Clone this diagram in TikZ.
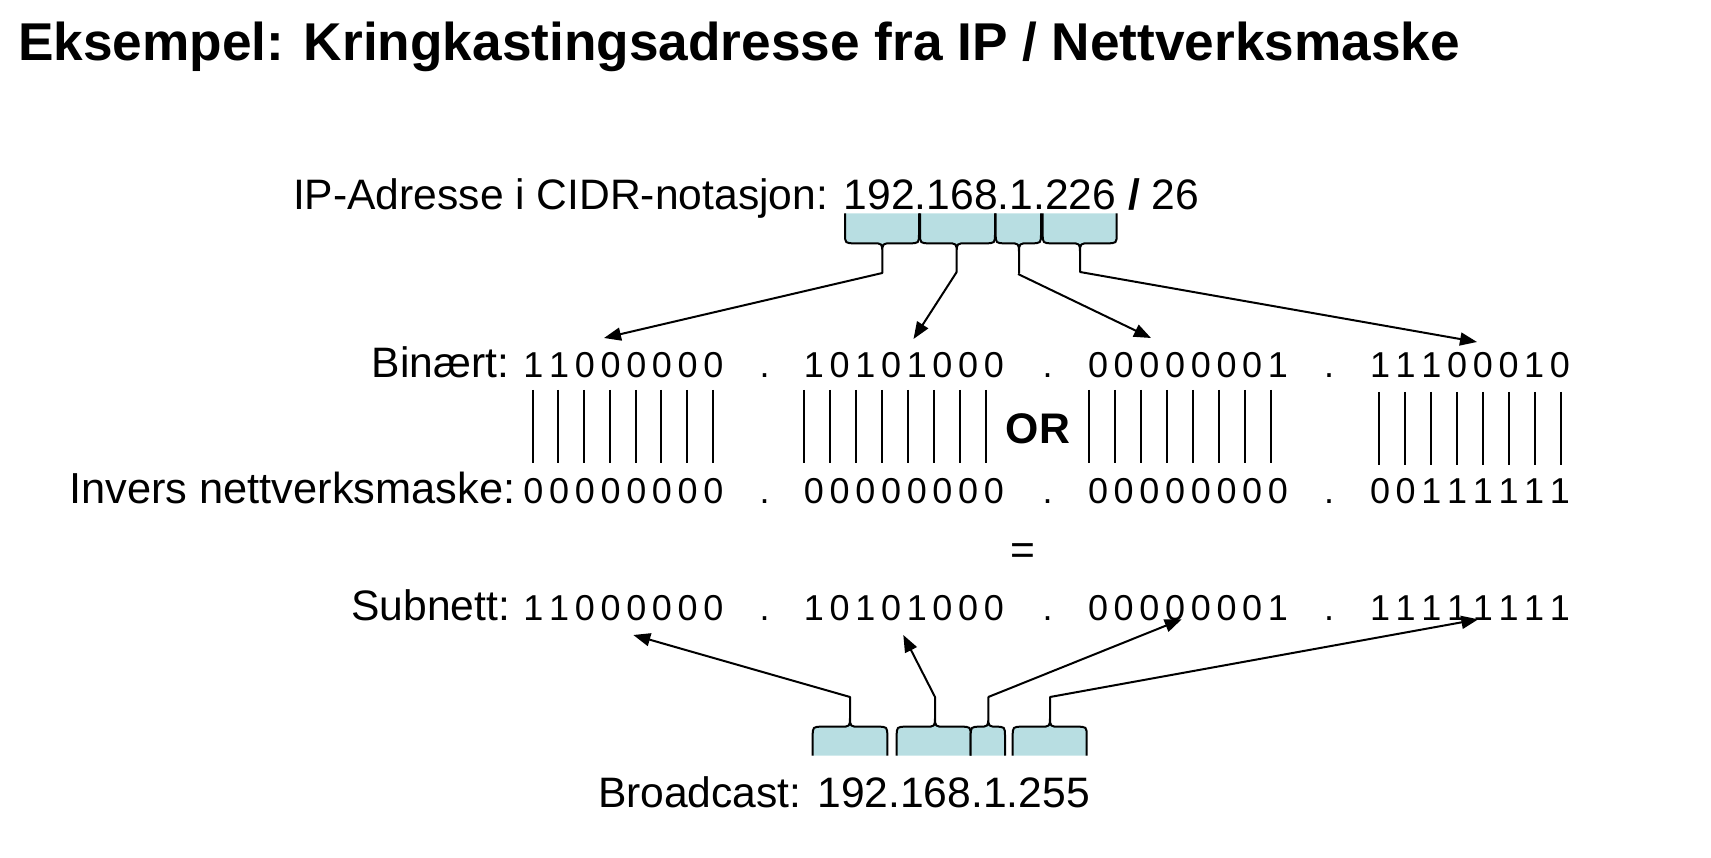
\documentclass[tikz,border=0pt]{standalone}
\usepackage{fontspec}
\setmainfont{Liberation Sans}
\usetikzlibrary{arrows.meta}
\definecolor{bracefill}{RGB}{184,222,226}
\tikzset{
  lbl/.style={inner sep=0pt, outer sep=0pt, font=\fontsize{42.6}{50}\selectfont},
  bit/.style={inner sep=0pt, outer sep=0pt, anchor=base, font=\fontsize{36}{42}\selectfont},
  arr/.style={line width=2pt, -{Triangle[length=17pt,width=13pt]}},
  bar/.style={line width=2pt},
  bracestyle/.style={line width=2pt, fill=bracefill, line join=round}
}
\newcommand\mybrace[7]{% xl xr xm yopen ycurve ytip sign
  \draw[bracestyle] (#1,#4) -- (#1,{#5-(#7)*10}) .. controls (#1,#5) .. ({#1+10},#5)
    -- ({#3-10},#5) .. controls (#3,#5) .. (#3,{#5+(#7)*10}) -- (#3,#6)
    -- (#3,{#5+(#7)*10}) .. controls (#3,#5) .. ({#3+10},#5)
    -- ({#2-10},#5) .. controls (#2,#5) .. (#2,{#5-(#7)*10}) -- (#2,#4);
}
\newcommand\bitrow[3]{%
  \foreach \bb [count=\ii from 0] in {#3} {
    \pgfmathtruncatemacro\oc{\ii/8}
    \pgfmathtruncatemacro\kk{\ii-8*\oc}
    \pgfmathsetmacro\xx{{523.5,804,1088,1370}[\oc]+10+25.7*\kk}
    \node[bit] (#1-\ii) at (\xx,#2) {\bb};
  }
  \foreach \dd [count=\jj] in {764.5,1047.5,1329} {\node[bit] (#1-dot\jj) at (\dd,#2) {.};}
}
\begin{document}
\begin{tikzpicture}[x=1pt,y=-1pt]
\useasboundingbox (0,0) rectangle (1711,858);
% title
\node[inner sep=0pt, anchor=base west, font=\fontsize{53.2}{60}\selectfont\bfseries] (title) at (18,60.5)
  {Eksempel: Kringkastingsadresse fra IP / Nettverksmaske};
% top line
\node[lbl, anchor=base west] (ipline) at (293,209.5)
  {IP-Adresse i CIDR-notasjon: 192.168.1.226 \textbf{/} 26};
% top braces
\mybrace{845}{919}{882.3}{213.3}{243.3}{273}{1}
\mybrace{920}{995}{956.7}{213.3}{243.3}{272}{1}
\mybrace{995.7}{1041}{1019}{213.3}{243.3}{273}{1}
\mybrace{1042.7}{1116.7}{1080}{213.3}{243.3}{272}{1}
\coordinate (tt1) at (882.3,273);
\coordinate (tt2) at (956.7,272);
\coordinate (tt3) at (1018,274);
\coordinate (tt4) at (1080,272);
\coordinate (ta1) at (604,338);
\coordinate (ta2) at (913.5,339);
\coordinate (ta3) at (1151,338);
\coordinate (ta4) at (1477,342);
\draw[arr] (tt1) -- (ta1);
\draw[arr] (tt2) -- (ta2);
\draw[arr] (tt3) -- (ta3);
\draw[arr] (tt4) -- (ta4);
% labels
\node[lbl, anchor=base east] (lbin) at (509,377.3) {Binært:};
\node[lbl, anchor=base east, font=\fontsize{43.4}{50}\selectfont] (linv) at (515.5,503.3) {Invers nettverksmaske:};
\node[lbl, anchor=base east] (lsub) at (510,620.5) {Subnett:};
% bit rows
\bitrow{bin}{377.3}{1,1,0,0,0,0,0,0,1,0,1,0,1,0,0,0,0,0,0,0,0,0,0,1,1,1,1,0,0,0,1,0}
\bitrow{inv}{503.3}{0,0,0,0,0,0,0,0,0,0,0,0,0,0,0,0,0,0,0,0,0,0,0,0,0,0,1,1,1,1,1,1}
\bitrow{sub}{620.5}{1,1,0,0,0,0,0,0,1,0,1,0,1,0,0,0,0,0,0,0,0,0,0,1,1,1,1,1,1,1,1,1}
% bars
\foreach \sx/\pp in {532.7/25.75, 804.3/26, 1089/26} {
  \foreach \kk in {0,...,7} {\draw[bar] ({\sx+\pp*\kk},390) -- ({\sx+\pp*\kk},463);}
}
\foreach \kk in {0,...,7} {\draw[bar] ({1379+26*\kk},392) -- ({1379+26*\kk},465);}
% OR and =
\node[lbl, anchor=base, font=\fontsize{42.8}{50}\selectfont\bfseries] (ortext) at (1038,443.5) {OR};
\node[lbl, anchor=base] (eq) at (1022.5,564) {=};
% bottom braces
\mybrace{812.7}{887.3}{850}{755.7}{726.7}{697}{-1}
\mybrace{896.7}{970.7}{935}{755.7}{726.7}{697}{-1}
\mybrace{970.7}{1005}{988.3}{755.7}{726.7}{697}{-1}
\mybrace{1012.7}{1086.7}{1050}{755.7}{726.7}{697}{-1}
\coordinate (bt1) at (850,697);
\coordinate (bt2) at (935,697);
\coordinate (bt3) at (988.3,697);
\coordinate (bt4) at (1050,697);
\coordinate (ba1) at (633.3,635);
\coordinate (ba2) at (903.3,635);
\coordinate (ba3) at (1181.7,619.3);
\coordinate (ba4) at (1478.3,619.3);
\draw[arr] (bt1) -- (ba1);
\draw[arr] (bt2) -- (ba2);
\draw[arr] (bt3) -- (ba3);
\draw[arr] (bt4) -- (ba4);
% broadcast
\node[lbl, anchor=base west] (bcast) at (598,807.5) {Broadcast: 192.168.1.255};
\end{tikzpicture}
\end{document}
